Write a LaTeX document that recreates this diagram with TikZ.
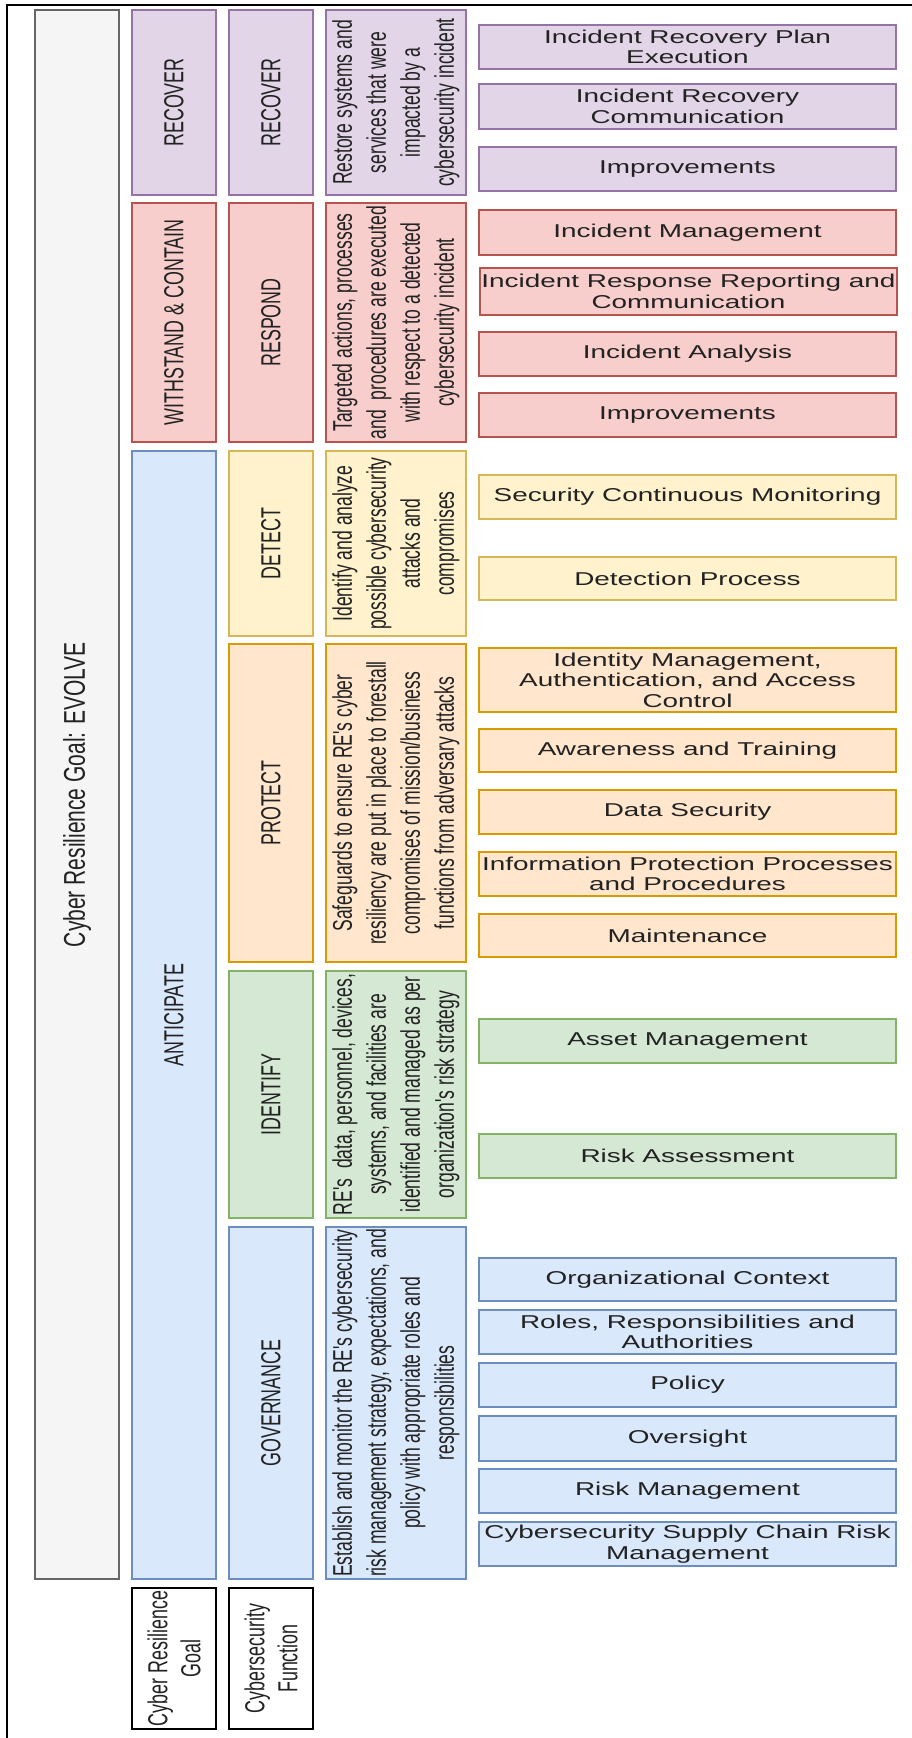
\documentclass[tikz,border=0pt]{standalone}
\usepackage{fontspec}
\setmainfont{Liberation Sans}
\newfontfamily\rotfont[FakeStretch=0.65]{Liberation Sans}
\newfontfamily\evofont[FakeStretch=0.7]{Liberation Sans}
\newfontfamily\horfont[FakeStretch=1.5]{Liberation Sans}
\definecolor{pfill}{HTML}{E1D5E7}\definecolor{pdraw}{HTML}{9673A6}
\definecolor{rfill}{HTML}{F8CECC}\definecolor{rdraw}{HTML}{B85450}
\definecolor{bfill}{HTML}{DAE8FC}\definecolor{bdraw}{HTML}{6C8EBF}
\definecolor{yfill}{HTML}{FFF2CC}\definecolor{ydraw}{HTML}{D6B656}
\definecolor{ofill}{HTML}{FFE6CC}\definecolor{odraw}{HTML}{D79B00}
\definecolor{gfill}{HTML}{D5E8D4}\definecolor{gdraw}{HTML}{82B366}
\definecolor{kfill}{HTML}{F5F5F5}\definecolor{kdraw}{HTML}{666666}
\definecolor{txt}{HTML}{222222}
\begin{document}
\begin{tikzpicture}[x=1pt,y=-1pt,
  base/.style={draw, line width=1.3pt, rectangle, inner sep=0pt, outer sep=0pt, align=center, text=txt},
  lab/.style={base, rotate=90, minimum height=84pt, font=\rotfont\fontsize{27.5}{33}\selectfont},
  desc/.style={base, rotate=90, minimum height=140pt, font=\rotfont\fontsize{27}{34}\selectfont},
  item/.style={base, minimum width=417pt, font=\horfont\fontsize{18.6}{20.5}\selectfont},
  cpur/.style={fill=pfill, draw=pdraw},
  cred/.style={fill=rfill, draw=rdraw},
  cblu/.style={fill=bfill, draw=bdraw},
  cyel/.style={fill=yfill, draw=ydraw},
  cora/.style={fill=ofill, draw=odraw},
  cgre/.style={fill=gfill, draw=gdraw},
  cgry/.style={fill=kfill, draw=kdraw},
  legend/.style={base, rotate=90, minimum width=141pt, minimum height=84pt, draw=black, fill=white, font=\rotfont\fontsize{27.5}{33}\selectfont}
]
\useasboundingbox (0,0) rectangle (912,1738);
\draw[line width=2pt] (7,1738) -- (7,5) -- (912,5);

% column 1
\node[lab, cgry, minimum width=1569pt, font=\evofont\fontsize{30}{36}\selectfont] (evolve) at (77,794.5) {Cyber Resilience Goal: EVOLVE};

% column 2 : goals
\node[lab, cpur, minimum width=185pt] (gRecover) at (174,102.5) {RECOVER};
\node[lab, cred, minimum width=239pt] (gWithstand) at (174,322.5) {WITHSTAND \& CONTAIN};
\node[lab, cblu, minimum width=1128pt] (gAnticipate) at (174,1015) {ANTICIPATE};

% column 3 : functions
\node[lab, cpur, minimum width=185pt] (fRecover) at (271,102.5) {RECOVER};
\node[lab, cred, minimum width=239pt] (fRespond) at (271,322.5) {RESPOND};
\node[lab, cyel, minimum width=185pt] (fDetect) at (271,543.5) {DETECT};
\node[lab, cora, minimum width=318pt] (fProtect) at (271,803) {PROTECT};
\node[lab, cgre, minimum width=247pt] (fIdentify) at (271,1094.5) {IDENTIFY};
\node[lab, cblu, minimum width=352pt] (fGovern) at (271,1403) {GOVERNANCE};

% column 4 : descriptions
\node[desc, cpur, minimum width=185pt] (dRecover) at (396,102.5) {Restore systems and\\services that were\\impacted by a\\cybersecurity incident};
\node[desc, cred, minimum width=239pt] (dRespond) at (396,322.5) {Targeted actions, processes\\and\ \ procedures are executed\\with respect to a detected\\cybersecurity incident};
\node[desc, cyel, minimum width=185pt] (dDetect) at (396,543.5) {Identify and analyze\\possible cybersecurity\\attacks and\\compromises};
\node[desc, cora, minimum width=318pt] (dProtect) at (396,803) {Safeguards to ensure RE's cyber\\resiliency are put in place to forestall\\compromises of mission/business\\functions from adversary attacks};
\node[desc, cgre, minimum width=247pt] (dIdentify) at (396,1094.5) {RE's\ \ data, personnel, devices,\\systems, and facilities are\\identified and managed as per\\organization's risk strategy};
\node[desc, cblu, minimum width=352pt] (dGovern) at (396,1403) {Establish and monitor the RE's cybersecurity\\risk management strategy, expectations, and\\policy with appropriate roles and\\responsibilities};

% column 5 : categories
\node[item, cpur, minimum height=44pt] (rc1) at (687.5,47) {Incident Recovery Plan\\Execution};
\node[item, cpur, minimum height=45pt] (rc2) at (687.5,106.5) {Incident Recovery\\Communication};
\node[item, cpur, minimum height=44pt] (rc3) at (687.5,169) {Improvements};

\node[item, cred, minimum height=45pt] (rs1) at (687.5,232.5) {Incident Management};
\node[item, cred, minimum height=47pt] (rs2) at (688.5,291.5) {Incident Response Reporting and\\Communication};
\node[item, cred, minimum height=44pt] (rs3) at (687.5,354) {Incident Analysis};
\node[item, cred, minimum height=44pt] (rs4) at (687.5,415) {Improvements};

\node[item, cyel, minimum height=44pt] (de1) at (687.5,497) {Security Continuous Monitoring};
\node[item, cyel, minimum height=43pt] (de2) at (687.5,578.5) {Detection Process};

\node[item, cora, minimum height=64pt] (pr1) at (687.5,680) {Identity Management,\\Authentication, and Access\\Control};
\node[item, cora, minimum height=43pt] (pr2) at (687.5,750.5) {Awareness and Training};
\node[item, cora, minimum height=44pt] (pr3) at (687.5,812) {Data Security};
\node[item, cora, minimum height=44pt] (pr4) at (687.5,874) {Information Protection Processes\\and Procedures};
\node[item, cora, minimum height=43pt] (pr5) at (687.5,935.5) {Maintenance};

\node[item, cgre, minimum height=44pt] (id1) at (687.5,1041) {Asset Management};
\node[item, cgre, minimum height=44pt] (id2) at (687.5,1156) {Risk Assessment};

\node[item, cblu, minimum height=43pt] (gv1) at (687.5,1279.5) {Organizational Context};
\node[item, cblu, minimum height=44pt] (gv2) at (687.5,1332) {Roles, Responsibilities and\\Authorities};
\node[item, cblu, minimum height=44pt] (gv3) at (687.5,1385) {Policy};
\node[item, cblu, minimum height=45pt] (gv4) at (687.5,1438.5) {Oversight};
\node[item, cblu, minimum height=44pt] (gv5) at (687.5,1491) {Risk Management};
\node[item, cblu, minimum height=44pt] (gv6) at (687.5,1544) {Cybersecurity Supply Chain Risk\\Management};

% legend
\node[legend] (legGoal) at (174,1658.5) {Cyber Resilience\\Goal};
\node[legend] (legFunc) at (271,1658.5) {Cybersecurity\\Function};
\end{tikzpicture}
\end{document}
